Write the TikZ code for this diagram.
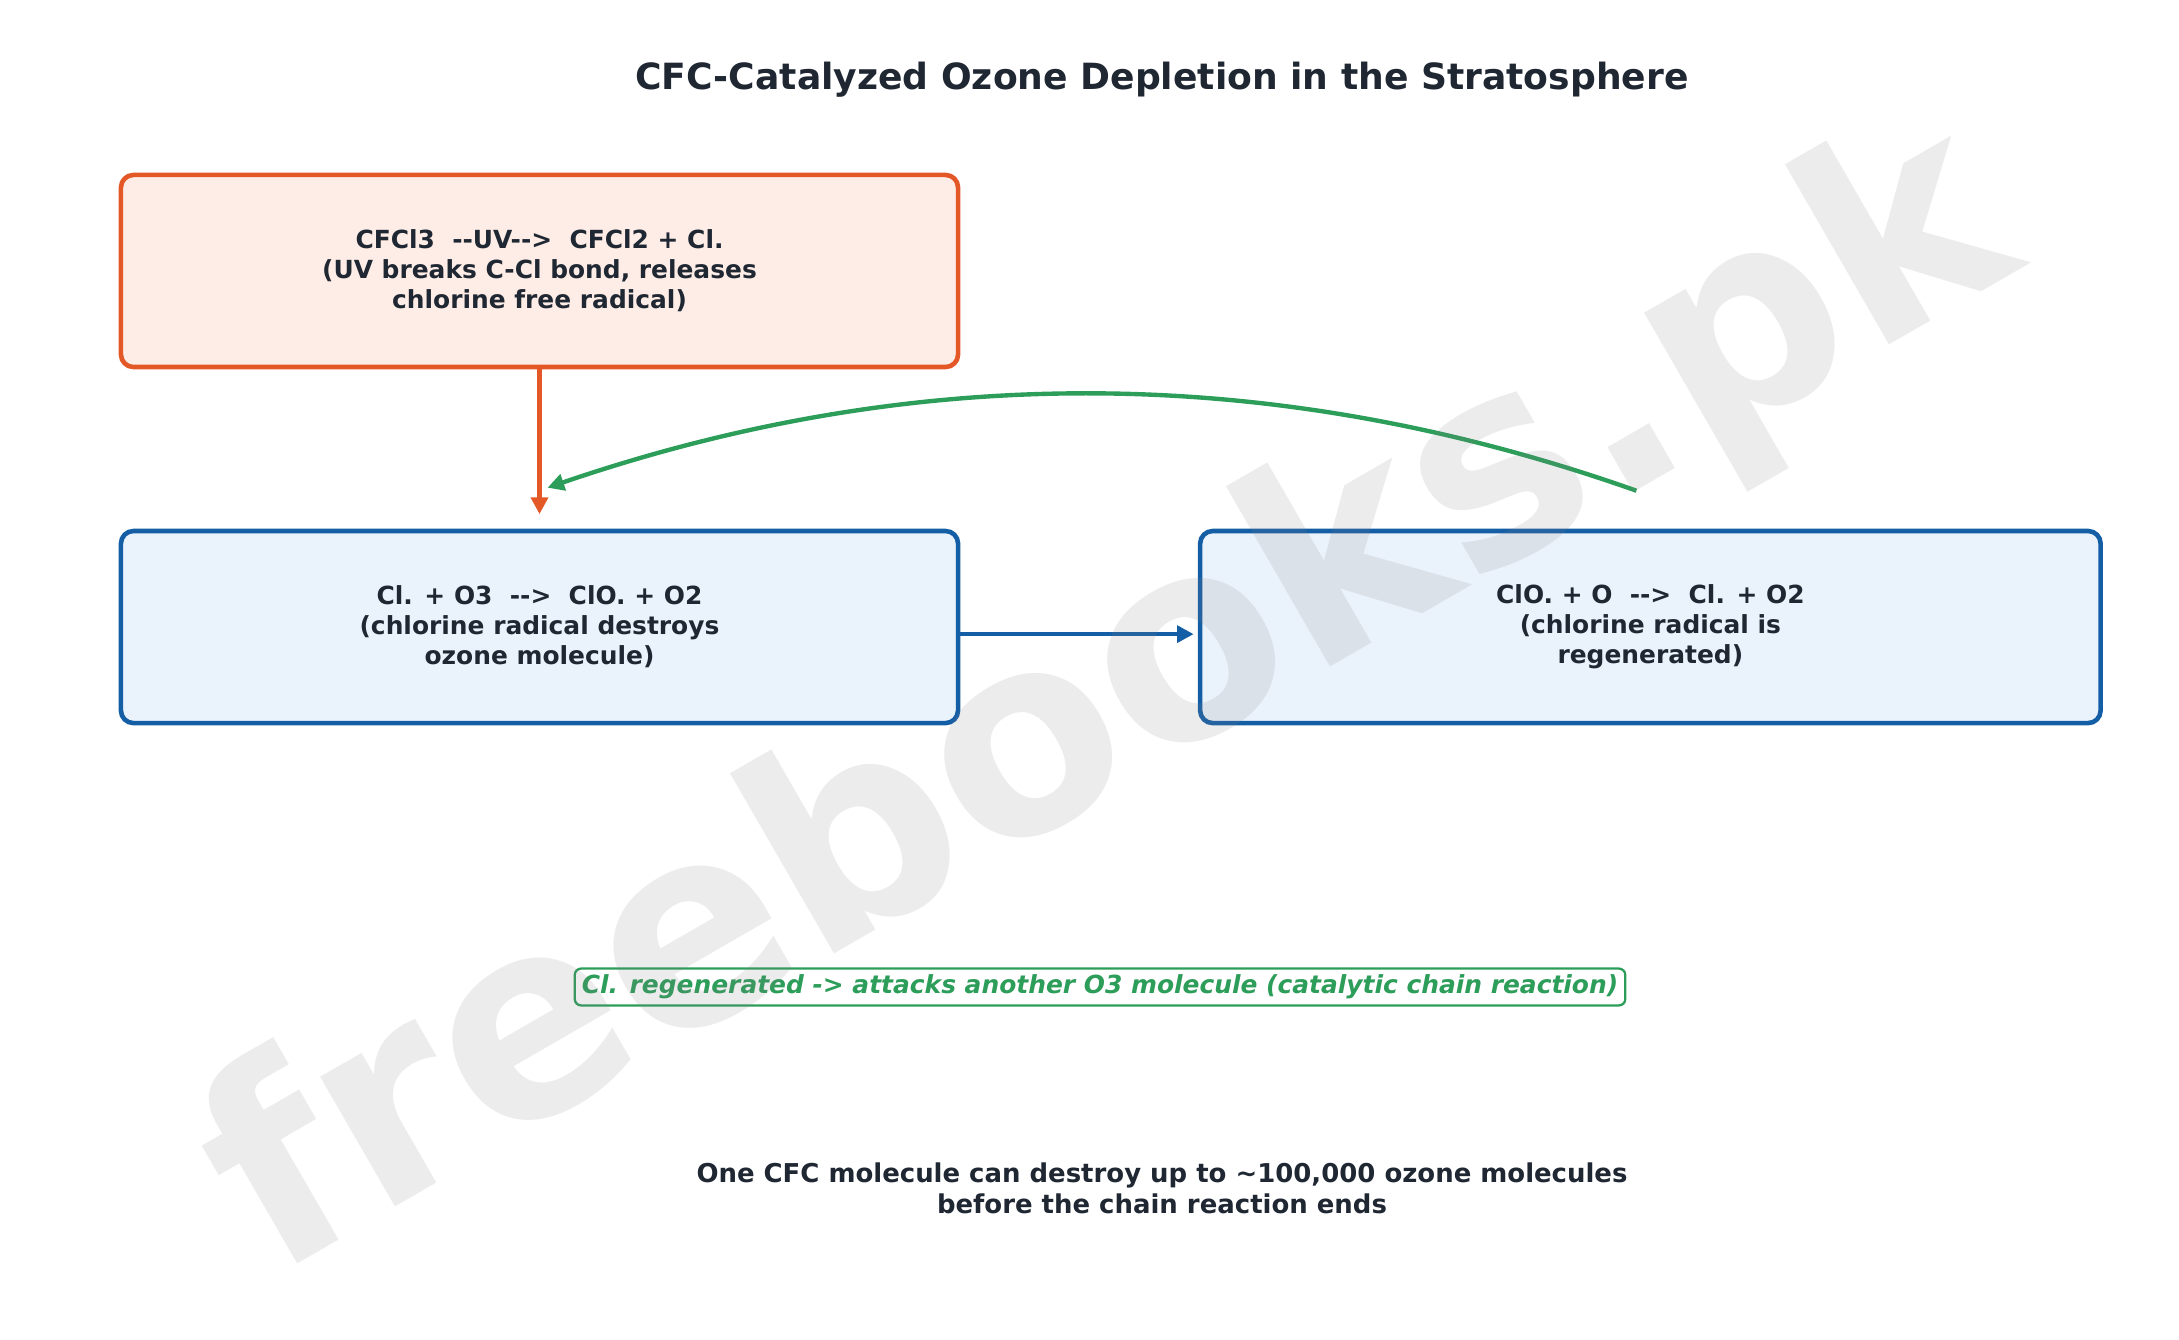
\documentclass[tikz,border=0pt]{standalone}
\usepackage{fontspec}
\setmainfont{DejaVu Sans}[Ligatures=TeXOff]
\usetikzlibrary{shapes, arrows.meta, positioning, calc}

\definecolor{inkdark}{RGB}{31,39,51}
\definecolor{uvorange}{RGB}{228,87,38}
\definecolor{uvfill}{RGB}{253,237,230}
\definecolor{clblue}{RGB}{20,94,165}
\definecolor{clfill}{RGB}{234,242,251}
\definecolor{cycgreen}{RGB}{45,157,90}

\begin{document}
\begin{tikzpicture}[
    x=0.48bp, y=-0.48bp,
    node distance=76.5bp,
    every node/.style={font=\fontsize{12}{14.4}\selectfont\bfseries, text=inkdark},
    uvstep/.style={rectangle, draw=uvorange, fill=uvfill, line width=2.2bp, rounded corners=6bp, minimum width=401.8bp, minimum height=92.2bp, align=center},
    chainstep/.style={rectangle, draw=clblue, fill=clfill, line width=2.2bp, rounded corners=6bp, minimum height=92.2bp, align=center},
    note/.style={rectangle, draw=cycgreen, fill=white, line width=1.1bp, rounded corners=3bp, inner xsep=3.4bp, inner ysep=3bp, text=cycgreen, font=\fontsize{12}{14.4}\selectfont\bfseries\itshape},
    arrow/.style={-{Triangle[length=8bp, width=8bp]}, line width=2.1bp}
]

% Frame
\useasboundingbox (0,0) rectangle (2179,1340);

% Nodes
\node[font=\fontsize{17.4}{20.9}\selectfont\bfseries] (title) at (1162,80) {CFC-Catalyzed Ozone Depletion in the Stratosphere};
\node[uvstep] (photolysis) at (539.5,271) {CFCl3\ \ --UV-->\ \ CFCl2 + Cl.\\(UV breaks C-Cl bond, releases\\chlorine free radical)};
\node[chainstep, minimum width=401.8bp, below=of photolysis] (ozoneloss) {Cl. + O3\ \ -->\ \ ClO. + O2\\(chlorine radical destroys\\ozone molecule)};
\node[chainstep, minimum width=432.2bp, right=114bp of ozoneloss] (regen) {ClO. + O\ \ -->\ \ Cl. + O2\\(chlorine radical is\\regenerated)};
\node[note] (chainnote) at (1100,987) {Cl. regenerated -> attacks another O3 molecule (catalytic chain reaction)};
\node[align=center, font=\fontsize{12.5}{15}\selectfont\bfseries] (summary) at (1162,1188) {One CFC molecule can destroy up to \textasciitilde100,000 ozone molecules\\before the chain reaction ends};

% Curve ends
\coordinate (cycstart) at ($(regen.north)+(-14,-38)$);
\coordinate (cycend) at ($(ozoneloss.north)+(8,-41)$);

% Arrows
\draw[arrow, uvorange, shorten >=7bp] (photolysis) -- (ozoneloss);
\draw[arrow, clblue, shorten >=2bp] ([yshift=-3.4bp]ozoneloss.east) -- ([yshift=-3.4bp]regen.west);
\draw[arrow, cycgreen] (cycstart) .. controls +(-365,-129) and +(365,-125) .. (cycend);

% Watermark
\node[rotate=30, text=gray, text opacity=0.15, font=\fontsize{132}{132}\selectfont\bfseries] (watermark) at (1112,706) {freebooks.pk};

\end{tikzpicture}
\end{document}
